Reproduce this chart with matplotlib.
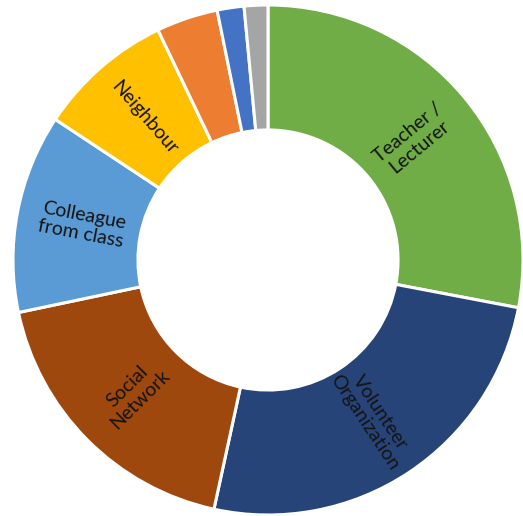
import numpy as np
import matplotlib.pyplot as plt

plt.rcParams['font.family'] = ['Lato', 'DejaVu Sans']

# share of respondents per source, read clockwise from 12 o'clock
sources = ["Teacher /\nLecturer", "Volunteer\nOrganization", "Social\nNetwork",
           "Colleague\nfrom class", "Neighbour", "", "", ""]
shares = [28.0, 25.4, 18.3, 12.6, 8.6, 3.9, 1.7, 1.5]
colors = ["#70AD47", "#264478", "#9E480E", "#5B9BD5", "#FFC000",
          "#ED7D31", "#4472C4", "#A5A5A5"]

fig = plt.figure(figsize=(5.23, 5.16), dpi=100)
ax = fig.add_axes([13 / 523, 1 / 516, 510 / 523, 510 / 516])

wedges, _ = ax.pie(shares, colors=colors, startangle=90, counterclock=False,
                   radius=1.0,
                   wedgeprops=dict(width=0.49, edgecolor="white", linewidth=2.2))

for w, label in zip(wedges, sources):
    if not label:
        continue
    mid = (w.theta1 + w.theta2) / 2
    r = 0.74
    x = r * np.cos(np.deg2rad(mid))
    y = r * np.sin(np.deg2rad(mid))
    rot = mid
    if rot > 90:
        rot -= 180
    if rot < -90:
        rot += 180
    ax.text(x, y, label, ha="center", va="center", rotation=rot,
            rotation_mode="anchor", fontsize=14, color="#141414",
            linespacing=1.1)

ax.set_xlim(-1, 1)
ax.set_ylim(-1, 1)
ax.set_aspect("equal")
ax.axis("off")

fig.savefig("out.png", dpi=100)
plt.close(fig)
